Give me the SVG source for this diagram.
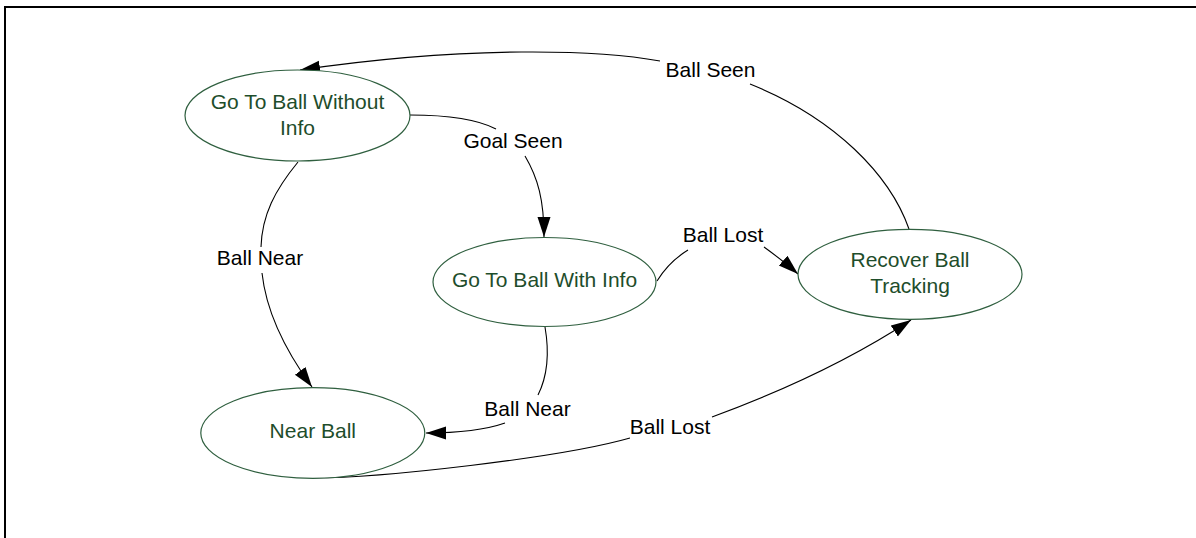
<svg xmlns="http://www.w3.org/2000/svg" width="1196" height="538" viewBox="0 0 1196 538">
  <style>
    .state ellipse { fill: #ffffff; stroke: #2f5f3f; stroke-width: 1.2; }
    .state text { font-family: "Liberation Sans", Arial, sans-serif; font-size: 21px; fill: #1e4d2b; text-anchor: middle; }
    .edge { fill: none; stroke: #000000; stroke-width: 1.1; }
    .label { font-family: "Liberation Sans", Arial, sans-serif; font-size: 21px; fill: #000000; text-anchor: middle; }
  </style>
  <defs>
    <marker id="arrow" markerUnits="userSpaceOnUse" markerWidth="22" markerHeight="14" refX="20" refY="6.5" orient="auto">
      <path d="M0,0 L20,6.5 L0,13 z" fill="#000000"/>
    </marker>
  </defs>

  <rect width="1196" height="538" fill="#ffffff"/>
  <!-- frame -->
  <rect x="5" y="7" width="1200" height="540" fill="none" stroke="#000000" stroke-width="2"/>

  <g id="connectors">
    <!-- Ball Seen: Recover Ball Tracking -> Go To Ball Without Info -->
    <path class="edge" d="M909,229 C890,175 835,118 750,84"/>
    <path class="edge" d="M660,61 C600,50 470,45 300,70" marker-end="url(#arrow)"/>
    <text class="label" x="710.5" y="77">Ball Seen</text>

    <!-- Goal Seen: Go To Ball Without Info -> Go To Ball With Info -->
    <path class="edge" d="M410,115 C440,115 475,118 496,129"/>
    <path class="edge" d="M525,156 C538,178 544,200 544,237" marker-end="url(#arrow)"/>
    <text class="label" x="513" y="148">Goal Seen</text>

    <!-- Ball Near: Go To Ball Without Info -> Near Ball -->
    <path class="edge" d="M298,162 C275,190 262,215 261,247"/>
    <path class="edge" d="M262,273 C266,310 285,350 312,387" marker-end="url(#arrow)"/>
    <text class="label" x="260" y="265">Ball Near</text>

    <!-- Ball Near: Go To Ball With Info -> Near Ball -->
    <path class="edge" d="M545,327 C549,350 548,375 538,395"/>
    <path class="edge" d="M505,423 C485,430 460,433 426,433" marker-end="url(#arrow)"/>
    <text class="label" x="527.5" y="416">Ball Near</text>

    <!-- Ball Lost: Go To Ball With Info -> Recover Ball Tracking -->
    <path class="edge" d="M657,281 C665,268 675,258 688,250"/>
    <path class="edge" d="M764,247 C775,255 788,265 798,274" marker-end="url(#arrow)"/>
    <text class="label" x="723" y="242">Ball Lost</text>

    <!-- Ball Lost: Near Ball -> Recover Ball Tracking -->
    <path class="edge" d="M313,478 C380,478 560,458 630,438"/>
    <path class="edge" d="M712,417 C780,392 850,360 911,320" marker-end="url(#arrow)"/>
    <text class="label" x="670" y="434">Ball Lost</text>
  </g>

  <g id="go-to-ball-without-info" class="state">
    <ellipse cx="297.5" cy="115.5" rx="112.5" ry="45.5"/>
    <text x="297.5" y="109">Go To Ball Without</text>
    <text x="297.5" y="135">Info</text>
  </g>

  <g id="go-to-ball-with-info" class="state">
    <ellipse cx="544.5" cy="282" rx="111.5" ry="44.5"/>
    <text x="544.5" y="287">Go To Ball With Info</text>
  </g>

  <g id="recover-ball-tracking" class="state">
    <ellipse cx="910" cy="274.3" rx="112" ry="45"/>
    <text x="910" y="267">Recover Ball</text>
    <text x="910" y="293">Tracking</text>
  </g>

  <g id="near-ball" class="state">
    <ellipse cx="312.8" cy="433" rx="112" ry="45.3"/>
    <text x="312.8" y="438">Near Ball</text>
  </g>
</svg>
